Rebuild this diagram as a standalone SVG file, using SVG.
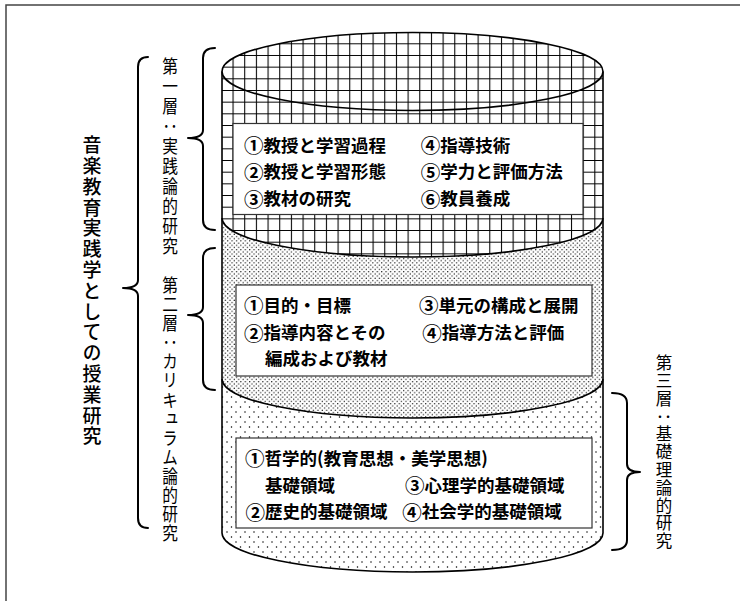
<svg xmlns="http://www.w3.org/2000/svg" width="740" height="601" viewBox="0 0 740 601">
<style>
.frame{fill:none;stroke:#444;stroke-width:1.5}
.out{fill:none;stroke:#000;stroke-width:1.6}
.box{fill:#fff;stroke:#333;stroke-width:1.2}
.brace{fill:none;stroke:#000;stroke-width:2;stroke-linecap:round;stroke-linejoin:round}
.t{font-family:"Noto Sans CJK JP","Noto Sans CJK SC",sans-serif;font-size:17.5px;font-weight:bold;fill:#000;dominant-baseline:central}
.n{font-size:19.5px}
.v{font-family:"Noto Sans CJK JP","Noto Sans CJK SC",sans-serif;font-size:18.5px;fill:#000;writing-mode:vertical-rl}
.v3{font-family:"Noto Sans CJK JP","Noto Sans CJK SC",sans-serif;font-size:16.5px;fill:#000;writing-mode:vertical-rl;letter-spacing:1.3px}
.big{font-family:"Noto Sans CJK JP","Noto Sans CJK SC",sans-serif;font-size:19px;font-weight:500;fill:#000;writing-mode:vertical-rl;letter-spacing:1.8px}
</style>
<defs>
<pattern id="grid" patternUnits="userSpaceOnUse" x="10.8" y="8.3" width="11.67" height="11.67">
<rect width="11.67" height="11.67" fill="#fff"/>
<path d="M0,0.5H11.67M0.5,0V11.67" stroke="#000" stroke-width="1.1"/>
</pattern>
<pattern id="dense" patternUnits="userSpaceOnUse" width="4.4" height="4.4">
<rect width="4.4" height="4.4" fill="#fff"/>
<circle cx="1.1" cy="1.1" r="0.65" fill="#000"/>
<circle cx="3.3" cy="3.3" r="0.65" fill="#000"/>
</pattern>
<pattern id="sparse" patternUnits="userSpaceOnUse" width="9" height="10">
<rect width="9" height="10" fill="#fff"/>
<circle cx="2" cy="2" r="0.75" fill="#000"/>
<circle cx="6.5" cy="7" r="0.75" fill="#000"/>
</pattern>
</defs>
<rect width="740" height="601" fill="#fff"/>
<path class="frame" d="M6,601V5H740"/>

<g id="cylinder">
<path id="layer3-fill" d="M222,379A190.5,39 0 0 0 603,379V533A190.5,39 0 0 1 222,533Z" fill="url(#sparse)"/>
<path id="layer2-fill" d="M222,218A190.5,39 0 0 0 603,218V379A190.5,39 0 0 1 222,379Z" fill="url(#dense)"/>
<path id="layer1-fill" d="M222,71.5A190.5,39 0 0 1 603,71.5V218A190.5,39 0 0 1 222,218Z" fill="url(#grid)"/>
<ellipse class="out" cx="412.5" cy="71.5" rx="190.5" ry="39"/>
<path class="out" d="M222,218A190.5,39 0 0 0 603,218"/>
<path class="out" d="M222,379A190.5,39 0 0 0 603,379"/>
<path class="out" d="M222,71.5V533A190.5,39 0 0 0 603,533V71.5"/>
</g>

<g id="box1">
<rect class="box" x="233" y="123.5" width="350" height="91"/>
<text class="t" x="244" y="144.2"><tspan class="n">①</tspan>教授と学習過程</text>
<text class="t" x="244" y="170.8"><tspan class="n">②</tspan>教授と学習形態</text>
<text class="t" x="244" y="197.5"><tspan class="n">③</tspan>教材の研究</text>
<text class="t" x="420.7" y="144.2"><tspan class="n">④</tspan>指導技術</text>
<text class="t" x="420.7" y="170.8"><tspan class="n">⑤</tspan>学力と評価方法</text>
<text class="t" x="420.7" y="197.5"><tspan class="n">⑥</tspan>教員養成</text>
</g>

<g id="box2">
<rect class="box" x="236" y="285" width="356" height="91"/>
<text class="t" x="244" y="304.2"><tspan class="n">①</tspan>目的・目標</text>
<text class="t" x="244" y="331.5"><tspan class="n">②</tspan>指導内容とその</text>
<text class="t" x="265" y="357.5">編成および教材</text>
<text class="t" x="419" y="304.2"><tspan class="n">③</tspan>単元の構成と展開</text>
<text class="t" x="422.3" y="331.5"><tspan class="n">④</tspan>指導方法と評価</text>
</g>

<g id="box3">
<rect class="box" x="236" y="438" width="356" height="90"/>
<text class="t" x="245" y="457"><tspan class="n">①</tspan>哲学的(教育思想・美学思想)</text>
<text class="t" x="265" y="484">基礎領域</text>
<text class="t" x="405" y="484"><tspan class="n">③</tspan>心理学的基礎領域</text>
<text class="t" x="245.5" y="510.8"><tspan class="n">②</tspan>歴史的基礎領域</text>
<text class="t" x="402.3" y="510.8"><tspan class="n">④</tspan>社会学的基礎領域</text>
</g>

<g id="braces">
<path class="brace" d="M148,57Q138,57 138,67V280Q138,288 123,288Q138,288 138,296V518Q138,528 148,528"/>
<path class="brace" d="M215,48Q203,48 203,58V130Q203,138 188,138Q203,138 203,146V220Q203,230 215,230"/>
<path class="brace" d="M215,248Q203,248 203,258V307Q203,315 188,315Q203,315 203,323V380Q203,390 215,390"/>
<path class="brace" d="M612,393Q627,393 627,403V464Q627,472 640,472Q627,472 627,480V540Q627,550 612,550"/>
</g>

<g id="label-main">
<text class="big" x="92" y="135.5">音楽教育実践学としての授業研究</text>
</g>

<g id="label-layer1" transform="translate(170 0) scale(0.85 1)">
<text class="v" x="0" y="56.75" letter-spacing="1.5">第一層：実践論的研究</text>
</g>

<g id="label-layer2" transform="translate(170 0) scale(0.85 1)">
<text class="v" x="0" y="275.75" letter-spacing="0.6">第二層：カリキュラム論的研究</text>
</g>

<g id="label-layer3">
<text class="v3" x="664" y="354.75">第三層：基礎理論的研究</text>
</g>
</svg>
